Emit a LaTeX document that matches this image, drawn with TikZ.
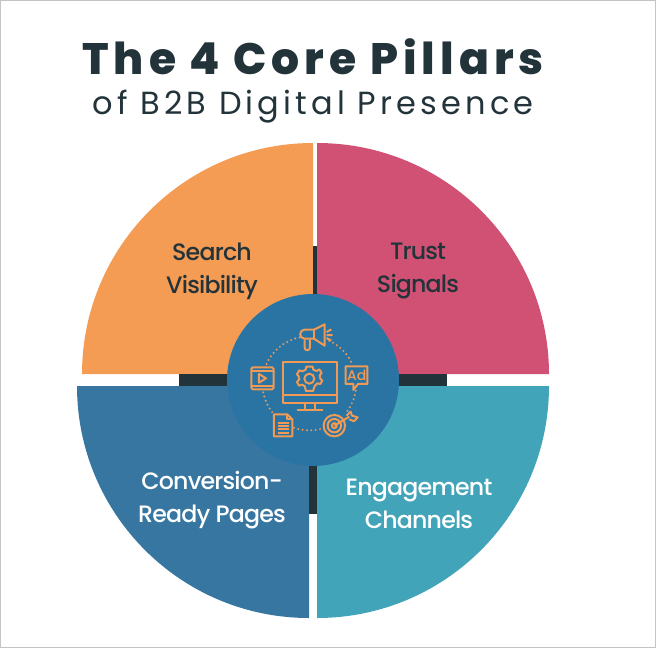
\documentclass[tikz,border=0pt]{standalone}
\usepackage{fontspec}
\setmainfont{Poppins}
\newfontfamily\titlefont[LetterSpace=11.5]{Poppins ExtraBold}
\newfontfamily\subfont[LetterSpace=13]{Poppins}
\newfontfamily\labelfont[LetterSpace=-3.5]{Poppins Medium}
\newfontfamily\adfont{Poppins Medium}
\definecolor{inkdark}{HTML}{22333A}
\definecolor{secorange}{HTML}{F49B54}
\definecolor{secpink}{HTML}{D15174}
\definecolor{secblue}{HTML}{3776A0}
\definecolor{secteal}{HTML}{42A4B8}
\definecolor{hubblue}{HTML}{2A74A4}
\definecolor{iconline}{HTML}{F09A55}
\definecolor{frameline}{HTML}{C4C4C4}
\tikzset{
  titletext/.style={text=inkdark,inner sep=0pt,anchor=center},
  petallabel/.style={inner sep=0pt,align=center,font=\labelfont\fontsize{23.7}{33}\selectfont},
  iconstroke/.style={draw=iconline,line width=2pt,line join=round,fill=none},
  icondots/.style={draw=iconline,line width=2.2pt,line cap=round,dash pattern=on 0pt off 4.4pt,fill=none},
}
\begin{document}
\begin{tikzpicture}[x=1pt,y=-1pt]
\useasboundingbox (0,0) rectangle (656,648);
\draw[frameline,line width=1.2pt] (0.6,0.6) rectangle (655.4,647.4);
\node[titletext] (title) at (313,57) {\titlefont\fontsize{44}{46}\selectfont The 4 Core Pillars};
\node[titletext] (subtitle) at (313,107) {\subfont\fontsize{32}{34}\selectfont of B2B Digital Presence};
% sectors
\fill[secorange] (313,374) -- (82,374) arc[start angle=180,end angle=90,radius=231pt] -- cycle;
\fill[secpink] (317,374) -- (317,143) arc[start angle=90,end angle=0,x radius=232pt,y radius=231pt] -- cycle;
\fill[secblue] (309,386) -- (77,386) arc[start angle=180,end angle=270,radius=232pt] -- cycle;
\fill[secteal] (317,386) -- (549,386) arc[start angle=0,end angle=-90,radius=232pt] -- cycle;
% dark cross
\fill[inkdark] (179,374) rectangle (447,386);
\fill[inkdark] (313,246) rectangle (317,374);
\fill[inkdark] (309,386) rectangle (317,514);
% hub
\fill[hubblue] (313,380) circle[radius=86pt];
% labels
\node[petallabel,text=inkdark] (search) at (212,271) {Search\\Visibility};
\node[petallabel,text=inkdark] (trust) at (418,271) {Trust\\Signals};
\node[petallabel,text=white] (conv) at (212,500) {Conversion-\\Ready Pages};
\node[petallabel,text=white] (eng) at (419,504) {Engagement\\Channels};
% icons, drawn in 3x crop coordinates
\begin{scope}[shift={(210,300)},x=0.3333pt,y=-0.3333pt]
  \coordinate (ring) at (298,250);
  % monitor
  \draw[iconstroke] (218,186) rectangle (381,308);
  \draw[iconstroke] (218,285) -- (381,285);
  \draw[iconstroke] (285,308) -- (285,330) (314,308) -- (314,330);
  \draw[iconstroke] (260,330) -- (338,330);
  % gear
  \draw[iconstroke] (298,236) circle[radius=5pt];
  \draw[iconstroke] (289,200) -- (308,200) -- (310,209) -- (320,213) -- (328,208) -- (335,219) -- (329,226) -- (331,236) -- (337,242) -- (331,252) -- (322,250) -- (314,258) -- (309,273) -- (288,273) -- (284,258) -- (276,254) -- (267,257) -- (261,246) -- (268,238) -- (266,229) -- (261,223) -- (268,211) -- (277,214) -- (287,209) -- cycle;
  % megaphone
  \draw[iconstroke] (344,73) -- (344,137) -- (312,116) -- (284,116) arc[start angle=270,end angle=90,radius=4.5pt] -- (312,89) -- cycle;
  \draw[iconstroke] (312,89) -- (312,116);
  \draw[iconstroke] (284,118) -- (284,143) arc[start angle=180,end angle=360,radius=2.6pt] -- (300,118);
  \draw[iconstroke] (350,105) -- (368,105) (350,96) -- (364,88) (350,114) -- (364,122);
  % film icon
  \draw[iconstroke,rounded corners=1.5pt] (124,202) rectangle (191,268);
  \draw[iconstroke] (124,212) -- (191,212) (124,257) -- (191,257);
  \draw[iconstroke] (147,222) -- (168,235) -- (147,248) -- cycle;
  % Ad icon
  \draw[iconstroke] (407,199) -- (472,199) -- (472,252) -- (444,252) -- (430,270) -- (430,252) -- (407,252) -- cycle;
  \node[inner sep=0pt,text=iconline] (adtext) at (440,226) {\adfont\fontsize{14}{14}\selectfont Ad};
  % document
  \draw[iconstroke] (192,343) -- (232,343) -- (247,358) -- (247,409) -- (192,409) -- cycle;
  \draw[iconstroke] (232,343) -- (232,358) -- (247,358);
  \draw[iconstroke] (203,368) -- (238,368) (203,378) -- (238,378) (203,388) -- (238,388) (203,398) -- (238,398);
  % target
  \draw[iconstroke] (373,377) circle[radius=10.7pt];
  \draw[iconstroke] (373,377) circle[radius=6.7pt];
  \draw[iconstroke] (373,377) circle[radius=2.5pt];
  \draw[iconstroke] (373,377) -- (418,350);
  \draw[iconstroke] (410,347) -- (422,335) -- (426,347) -- (443,352) -- (432,364) -- (418,358);
  % dotted ring
  \draw[icondots] (ring) ++(102:47pt) arc[start angle=102,end angle=157,radius=47pt];
  \draw[icondots] (ring) ++(65:47pt) arc[start angle=65,end angle=24,radius=47pt];
  \draw[icondots] (ring) ++(-9:47pt) arc[start angle=-9,end angle=-40,radius=47pt];
  \draw[icondots] (ring) ++(191:47pt) arc[start angle=191,end angle=223,radius=47pt];
  \draw[icondots] (ring) ++(251:47pt) arc[start angle=251,end angle=287,radius=47pt];
\end{scope}
\end{tikzpicture}
\end{document}
